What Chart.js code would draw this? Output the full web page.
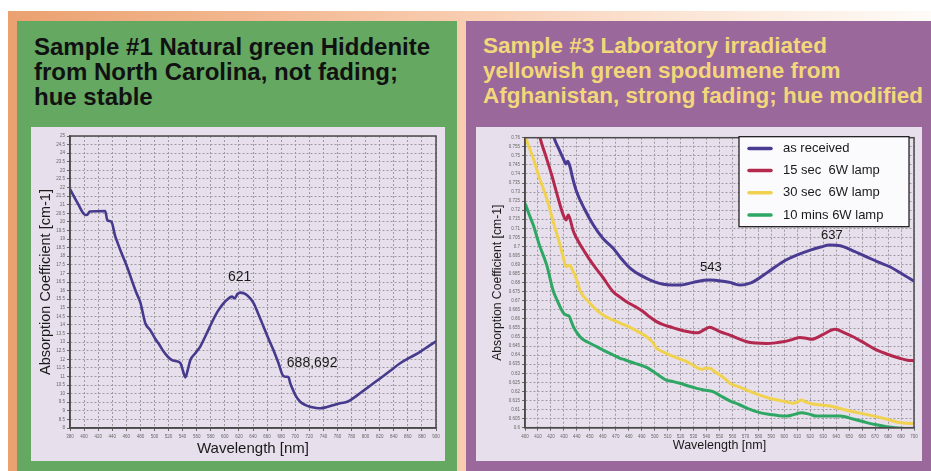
<!DOCTYPE html>
<html>
<head>
<meta charset="utf-8">
<script src="https://cdn.jsdelivr.net/npm/chart.js@4.4.1/dist/chart.umd.min.js"></script>
<style>
  body { margin:0; width:931px; height:471px; overflow:hidden; background:#fff; position:relative; font-family:"Liberation Sans", Arial, sans-serif; }
  #bg { position:absolute; left:8px; top:11px; right:0; bottom:0;
        background:linear-gradient(to right, #eba170 0%, #f2b68e 25%, #f8cdb1 50%, #fbe4d4 72%, #fefbf8 100%); }
  .panel { position:absolute; top:21px; bottom:0; }
  #p1 { left:17px; width:440px; background:#64a862; }
  #p2 { left:466px; right:0; background:#9a689b; }
  .title { position:absolute; font-weight:bold; white-space:nowrap; line-height:25px; }
  #t1 { left:34px; top:34px; font-size:24px; color:#111; }
  #t2 { left:483px; top:33px; font-size:22.5px; color:#f2d87a; }
  .box { position:absolute; top:127px; height:334px; background:#e7dfeb; }
  #b1 { left:31px; width:414px; }
  #b2 { left:476px; width:446px; }
  canvas { display:block; }
</style>
</head>
<body>
<div id="bg"></div>
<div class="panel" id="p1"></div>
<div class="panel" id="p2"></div>
<div class="title" id="t1">Sample #1 Natural green Hiddenite<br>from North Carolina, not fading;<br>hue stable</div>
<div class="title" id="t2">Sample #3 Laboratory irradiated<br>yellowish green spodumene from<br>Afghanistan, strong fading; hue modified</div>
<div class="box" id="b1"><canvas id="hidChart" width="414" height="334"></canvas></div>
<div class="box" id="b2"><canvas id="spoChart" width="446" height="334"></canvas></div>

<script>
// Sample #1 - natural green Hiddenite (wavelength nm / absorption cm-1)
const hidWl = [380, 392, 400, 404, 408, 430, 433, 436, 439, 444, 447, 453, 460, 467, 474, 480, 487, 494, 501, 507,
  513, 519, 525, 530, 537, 540, 544, 548, 551, 558, 565, 573, 581, 590, 598, 604, 610, 614, 618, 622,
  627, 632, 636, 641, 648, 655, 662, 669, 676, 683, 688, 690.5, 693, 696, 701, 707, 714, 721, 728, 736,
  745, 755, 765, 774, 783, 792, 806, 821, 835, 849, 864, 878, 890, 900];
const hidAbs = [21.9, 21.0, 20.45, 20.4, 20.6, 20.63, 20.1, 20.05, 20.0, 19.2, 18.85, 18.2, 17.5, 16.7, 15.9, 15.3, 14.1, 13.7, 13.2, 12.85,
  12.45, 12.15, 11.95, 11.9, 11.77, 11.4, 10.95, 11.5, 11.96, 12.35, 12.74, 13.4, 14.1, 14.8, 15.26, 15.5, 15.65, 15.55, 15.8, 15.88,
  15.85, 15.72, 15.55, 15.26, 14.6, 13.9, 13.2, 12.54, 11.8, 11.03, 10.98, 10.95, 10.6, 10.3, 9.85, 9.53, 9.35, 9.24, 9.18, 9.15,
  9.22, 9.34, 9.45, 9.53, 9.75, 10.02, 10.45, 10.9, 11.33, 11.77, 12.12, 12.45, 12.78, 13.05];

// Sample #3 - irradiated spodumene, four lamp exposures
const recWl = [418, 422.4, 426, 430, 431.5, 433, 434.5, 437, 439.8, 446, 452.7, 460, 468, 474, 481, 487, 493.8, 500, 506.6, 513,
  519.5, 526, 532, 538, 543, 548, 553, 558, 562, 566, 571, 576, 588, 599, 610, 620, 628, 635, 640, 645.4,
  654, 663.4, 672, 681.4, 690, 700];
const recAbs = [0.775, 0.760, 0.754, 0.7477, 0.7455, 0.747, 0.7445, 0.737, 0.7302, 0.7205, 0.7118, 0.7045, 0.699, 0.6935, 0.688, 0.685, 0.6824, 0.6805, 0.6791, 0.6787,
  0.6787, 0.6795, 0.6805, 0.6813, 0.6815, 0.6812, 0.6808, 0.6802, 0.6792, 0.6787, 0.6792, 0.6805, 0.6862, 0.6916, 0.6953, 0.698, 0.6997, 0.7008, 0.7006, 0.6999,
  0.6973, 0.6943, 0.6915, 0.6888, 0.6852, 0.6808];

const sec15Wl = [409, 411.6, 416, 420.6, 425, 429.5, 431.6, 433.4, 435, 437, 439.8, 446, 452.7, 460, 468, 473, 478.3, 485, 491.2, 496,
  501.5, 506, 511.8, 517, 522, 528, 533.6, 538, 542.6, 546, 550.3, 558, 565, 571, 578, 586.4, 593, 599, 606, 612,
  617, 621, 630, 639, 646, 653, 662, 671, 680, 689, 695, 700];
const sec15Abs = [0.770, 0.760, 0.750, 0.7394, 0.728, 0.7174, 0.7146, 0.7174, 0.7145, 0.709, 0.7045, 0.697, 0.6898, 0.683, 0.675, 0.6722, 0.6695, 0.6668, 0.664, 0.6612,
  0.6585, 0.657, 0.6557, 0.6545, 0.6535, 0.6527, 0.6524, 0.654, 0.6554, 0.6545, 0.653, 0.6511, 0.649, 0.6474, 0.6467, 0.6465, 0.6468, 0.6474, 0.6486, 0.6498,
  0.6493, 0.6488, 0.6515, 0.6543, 0.6525, 0.6502, 0.6466, 0.6429, 0.6404, 0.6383, 0.6372, 0.637];

const sec30Wl = [400.3, 403, 406.4, 411, 416.7, 422, 427, 429.5, 431.6, 433, 434.7, 436.5, 438.5, 443, 449, 455.3, 461, 468, 474, 481,
  487, 493.8, 498, 501.5, 506, 511.8, 518, 524.7, 530, 536.2, 539, 542.6, 546, 550.3, 555.5, 558, 565, 572, 581, 590,
  598, 603, 606.9, 610, 613.3, 617, 622, 630, 637.7, 645, 653, 662, 671, 680, 689, 695, 700];
const sec30Abs = [0.7605, 0.755, 0.7486, 0.738, 0.7266, 0.713, 0.7008, 0.694, 0.6888, 0.6893, 0.6896, 0.687, 0.6842, 0.6748, 0.6695, 0.6649, 0.6618, 0.6594, 0.6574, 0.6554,
  0.653, 0.6502, 0.6475, 0.6438, 0.642, 0.6401, 0.6383, 0.6364, 0.6343, 0.6322, 0.6328, 0.6328, 0.631, 0.6291, 0.6262, 0.6245, 0.6225, 0.6205, 0.618, 0.616,
  0.6148, 0.614, 0.6135, 0.6142, 0.6153, 0.614, 0.6131, 0.6124, 0.6116, 0.6102, 0.6088, 0.6075, 0.6061, 0.6045, 0.6028, 0.6024, 0.6023];

const min10Wl = [400.3, 403, 406.4, 411, 416.7, 422, 425, 428.3, 430, 431.6, 434, 435.5, 437.3, 440, 443.7, 449, 455.3, 461, 468, 473.3,
  477, 481, 487, 493.8, 500, 505, 509, 514, 519.5, 526, 532.4, 538, 545, 551, 558, 565, 572, 581, 590, 596,
  601.8, 607, 613.3, 619, 625, 634, 643, 653, 663.5, 671, 679, 690, 700];
const min10Abs = [0.7235, 0.718, 0.7118, 0.701, 0.6898, 0.675, 0.670, 0.6649, 0.663, 0.6622, 0.6616, 0.659, 0.6557, 0.6525, 0.6493, 0.647, 0.6447, 0.6425, 0.6401, 0.6383,
  0.6375, 0.6364, 0.635, 0.6333, 0.6305, 0.628, 0.6263, 0.6255, 0.6245, 0.623, 0.6217, 0.6208, 0.6199, 0.6175, 0.6148, 0.6128, 0.6105, 0.6083, 0.6072, 0.6066,
  0.6064, 0.6072, 0.6083, 0.6075, 0.6064, 0.6064, 0.6064, 0.6048, 0.6028, 0.6016, 0.6006, 0.5997, 0.599];

const seriesNames = ['as received', '15 sec  6W lamp', '30 sec  6W lamp', '10 mins 6W lamp'];
const seriesColors = ['#4a3b92', '#b3284f', '#f1d24e', '#2ea765'];

// peak labels, placed in data units
const hidPeaks = ['621', '688,692'];
const hidPeakAt = [[621, 16.8], [724, 11.8]];
const spoPeaks = ['543', '637'];
const spoPeakAt = [[543.4, 0.6887], [636.7, 0.7063]];

const toPoints = (xs, ys) => xs.map((x, i) => ({ x: x, y: ys[i] }));

Chart.defaults.font.family = '"Liberation Sans", Arial, sans-serif';
Chart.defaults.color = '#555';

// dark frame round the plot area
const framePlugin = {
    id: 'frame',
    afterDatasetsDraw(chart) {
        const { ctx, chartArea: a } = chart;
        ctx.save();
        ctx.strokeStyle = '#4a4a4a';
        ctx.lineWidth = 1.5;
        ctx.strokeRect(a.left, a.top, a.right - a.left, a.bottom - a.top);
        ctx.restore();
    }
};

// text labels next to the absorption peaks
const peakPlugin = {
    id: 'peaks',
    afterDatasetsDraw(chart, args, opts) {
        if (!opts.labels) return;
        const { ctx, scales } = chart;
        ctx.save();
        ctx.font = opts.size + 'px "Liberation Sans", Arial, sans-serif';
        ctx.fillStyle = '#1a1a1a';
        ctx.textAlign = 'center';
        ctx.textBaseline = 'middle';
        opts.labels.forEach((txt, i) => {
            const p = opts.at[i];
            ctx.fillText(txt, scales.x.getPixelForValue(p[0]), scales.y.getPixelForValue(p[1]));
        });
        ctx.restore();
    }
};

// boxed legend in the upper right of the plot
const boxLegend = {
    id: 'boxLegend',
    afterDraw(chart, args, opts) {
        if (!opts.show) return;
        const { ctx, chartArea: a } = chart;
        const w = 170, h = 90;
        const left = a.right - 5 - w, top = a.top - 1;
        ctx.save();
        ctx.fillStyle = '#fbfafc';
        ctx.fillRect(left, top, w, h);
        ctx.strokeStyle = '#111';
        ctx.lineWidth = 1.2;
        ctx.strokeRect(left, top, w, h);
        ctx.font = '13px "Liberation Sans", Arial, sans-serif';
        ctx.textBaseline = 'middle';
        ctx.lineCap = 'round';
        chart.data.datasets.forEach((ds, i) => {
            const y = top + 11.7 + i * 22.2;
            ctx.strokeStyle = ds.borderColor;
            ctx.lineWidth = 3.5;
            ctx.beginPath();
            ctx.moveTo(left + 10, y);
            ctx.lineTo(left + 32, y);
            ctx.stroke();
            ctx.fillStyle = '#1a1a1a';
            ctx.fillText(ds.label, left + 44, y);
        });
        ctx.restore();
    }
};

function axes(o) {
    const gridOpts = { color: '#9c9aa0', lineWidth: 1, drawTicks: true, tickLength: 3, tickColor: '#666' };
    return {
        x: {
            type: 'linear', min: o.xMin, max: o.xMax,
            afterFit: s => { s.height = o.xHeight; },
            ticks: { stepSize: o.xStep, autoSkip: false, maxRotation: 0, padding: 3, font: { size: 4.5 }, color: '#666' },
            grid: gridOpts,
            border: { display: true, color: '#4a4a4a', width: 1.5, dash: [2, 2] },
            title: { display: true, text: 'Wavelength [nm]', color: '#1a1a1a', font: { size: o.xTitleSize }, padding: { top: 0, bottom: o.xTitlePad } }
        },
        y: {
            type: 'linear', min: o.yMin, max: o.yMax,
            afterFit: s => { s.width = o.yWidth; },
            ticks: { stepSize: o.yStep, autoSkip: false, padding: 2, font: { size: 4.5 }, color: '#666', callback: o.yFmt },
            grid: gridOpts,
            border: { display: true, color: '#4a4a4a', width: 1.5, dash: [2, 2] },
            title: { display: true, text: 'Absorption Coefficient [cm-1]', color: '#1a1a1a', font: { size: o.yTitleSize }, padding: { top: o.yTitlePad, bottom: 0 } }
        }
    };
}

new Chart(document.getElementById('hidChart'), {
    type: 'line',
    data: {
        datasets: [{
            label: 'Sample #1',
            data: toPoints(hidWl, hidAbs),
            borderColor: '#463a8c',
            borderWidth: 2.6,
            pointRadius: 0,
            cubicInterpolationMode: 'monotone'
        }]
    },
    options: {
        responsive: false,
        animation: false,
        layout: { padding: { top: 9, right: 9, left: 0, bottom: 0 } },
        plugins: {
            legend: { display: false },
            tooltip: { enabled: false },
            peaks: { labels: hidPeaks, at: hidPeakAt, size: 14 }
        },
        scales: axes({
            xMin: 380, xMax: 900, xStep: 20, xHeight: 33, xTitleSize: 15, xTitlePad: 3,
            yMin: 8, yMax: 25, yStep: 0.5, yWidth: 39, yTitleSize: 14.5, yTitlePad: 6,
            yFmt: v => String(Math.round(v * 10) / 10)
        })
    },
    plugins: [framePlugin, peakPlugin]
});

const spoSets = [[recWl, recAbs], [sec15Wl, sec15Abs], [sec30Wl, sec30Abs], [min10Wl, min10Abs]];

new Chart(document.getElementById('spoChart'), {
    type: 'line',
    data: {
        datasets: spoSets.map((s, i) => ({
            label: seriesNames[i],
            data: toPoints(s[0], s[1]),
            borderColor: seriesColors[i],
            borderWidth: 3,
            pointRadius: 0,
            cubicInterpolationMode: 'monotone'
        }))
    },
    options: {
        responsive: false,
        animation: false,
        layout: { padding: { top: 10.7, right: 8, left: 0, bottom: 0 } },
        plugins: {
            legend: { display: false },
            tooltip: { enabled: false },
            peaks: { labels: spoPeaks, at: spoPeakAt, size: 13 },
            boxLegend: { show: true }
        },
        scales: axes({
            xMin: 400, xMax: 700, xStep: 10, xHeight: 33.3, xTitleSize: 12.5, xTitlePad: 7.5,
            yMin: 0.6, yMax: 0.76, yStep: 0.005, yWidth: 49, yTitleSize: 12.2, yTitlePad: 14.5,
            yFmt: v => String(Math.round(v * 1000) / 1000)
        })
    },
    plugins: [framePlugin, peakPlugin, boxLegend]
});
</script>
</body>
</html>
